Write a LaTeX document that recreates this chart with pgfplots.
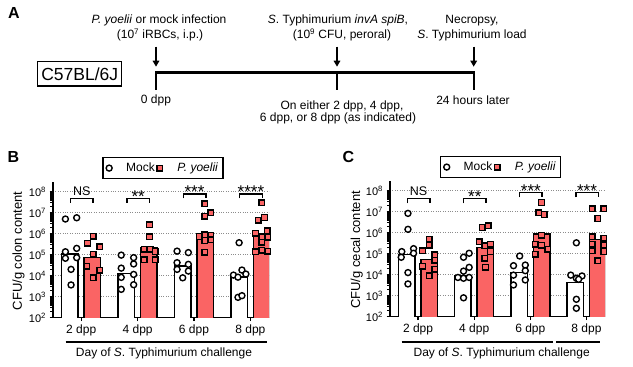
\documentclass[border=0pt]{standalone}
\usepackage{pgfplots}
\pgfplotsset{compat=1.18}
\usepackage{fontspec}
\setmainfont{Liberation Sans}
\usetikzlibrary{arrows.meta}
\definecolor{pyred}{RGB}{250,100,100}
\pgfplotsset{
  mockpts/.style={only marks, mark=*, mark size=3pt, mark options={fill=white, draw=black, line width=1.4pt}},
  pypts/.style={only marks, mark=square*, mark size=2.8pt, mark options={fill=pyred, draw=black, line width=1.4pt}},
  mockbar/.style={ybar, bar width=16.5pt, bar shift=0pt, fill=white, draw=black, line width=1.5pt, forget plot},
  pybar/.style={ybar, bar width=16.5pt, bar shift=0pt, fill=pyred, draw=black, line width=1.5pt, forget plot},
}
\begin{document}
\begin{tikzpicture}[font=\fontsize{12}{14}\selectfont]
\begin{scope}[x=1pt,y=1pt]
\path[use as bounding box] (0,0) rectangle (633,367);
% Panel A
\node[font=\bfseries\fontsize{16}{18}\selectfont] at (14,354) {A};
\node at (159,346.3) {\textit{P. yoelii} or mock infection};
\node at (160,332) {(10\textsuperscript{7} iRBCs, i.p.)};
\node at (338,346.3) {\textit{S}. Typhimurium \textit{invA spiB},};
\node at (342,332) {(10\textsuperscript{9} CFU, peroral)};
\node at (472,346.3) {Necropsy,};
\node at (472,332) {\textit{S}. Typhimurium load};
\draw[line width=2.5pt] (155,294.3) -- (474.8,294.3);
\foreach \x in {156,337,473.7} {
  \draw[line width=2.2pt] (\x,295.5) -- (\x,277);
  \draw[line width=1.6pt, -{Triangle[length=6pt,width=6.5pt]}] (\x,320.3) -- (\x,300.3);
}
\node[draw, line width=1.5pt, minimum width=84pt, minimum height=24.3pt, font=\fontsize{17.5}{20}\selectfont, inner sep=0pt] at (79.7,293.2) {C57BL/6J};
\node at (156,267) {0 dpp};
\node at (473,267) {24 hours later};
\node at (342,260.3) {On either 2 dpp, 4 dpp,};
\node at (338,248.7) {6 dpp, or 8 dpp (as indicated)};
% Panel labels and axis titles
\node[font=\bfseries\fontsize{16}{18}\selectfont] at (13.3,210.3) {B};
\node[font=\bfseries\fontsize{16}{18}\selectfont] at (348.3,210.3) {C};
\node[rotate=90, font=\fontsize{13}{15}\selectfont] at (18.5,116) {CFU/g colon content};
\node[rotate=90, font=\fontsize{13}{15}\selectfont] at (356.7,117) {CFU/g cecal content};
\draw[line width=2pt] (65.7,25) -- (266.7,25);
\node at (164,13.7) {Day of \textit{S}. Typhimurium challenge};
\draw[line width=2pt] (401.7,25) -- (553,25);
\draw[line width=2pt] (556,25) -- (600,25);
\node at (501.7,13.7) {Day of \textit{S}. Typhimurium challenge};
\end{scope}

% Panel B
\begin{axis}[
    scale only axis, width=216pt, height=136pt, anchor=south west, at={(53pt,49.3pt)},
    ymode=log, ymin=1e2, ymax=3e8,
    xmin=-0.5, xmax=3.33,
    axis lines=left, axis line style={-, line width=1.5pt},
    xtick={0,1,2,3}, xticklabels={2 dpp,4 dpp,6 dpp,8 dpp},
    ytick={1e2,1e3,1e4,1e5,1e6,1e7,1e8},
    yticklabels={10\textsuperscript{2},10\textsuperscript{3},10\textsuperscript{4},10\textsuperscript{5},10\textsuperscript{6},10\textsuperscript{7},10\textsuperscript{8}},
    minor ytick={},
    tick align=outside, major tick length=3.5pt,
    tick style={line width=1.3pt, black},
    ymajorgrids, grid style={dotted, black!45, line width=0.8pt},
    x tick label style={font=\fontsize{12}{14}\selectfont},
    y tick label style={font=\fontsize{11}{13}\selectfont},
    legend columns=2,
    legend style={at={(0.51,1.10)}, anchor=center, draw=black, line width=1.5pt, font=\fontsize{12}{14}\selectfont, inner xsep=3pt, inner ysep=3.5pt},
  ]
\addplot[mockbar] coordinates {(-0.2,1.07e5) (0.8,1.29e4) (1.8,2.88e4) (2.8,8.51e3)};
\addplot[pybar] coordinates {(0.2,7.41e4) (1.2,2.14e5) (2.2,1.05e6) (3.2,7.59e5)};
\addplot[mockpts] coordinates {
(-0.28,5.01e6) (-0.08,5.75e6) (-0.28,1.38e5) (-0.08,2.0e5) (-0.28,6.76e4) (-0.08,7.24e4) (-0.18,2.0e4) (-0.18,3.63e3)
(0.71,9.55e4) (0.93,7.24e4) (0.93,3.63e4) (0.71,2.29e4) (0.93,1.15e4) (0.71,8.32e3) (0.93,3.72e3) (0.71,2.24e3)
(1.70,1.48e5) (1.90,1.26e5) (1.70,4.17e4) (1.90,3.47e4) (1.70,2.0e4) (1.90,1.66e4) (1.80,7.94e3)
(2.80,3.72e5) (2.70,1.07e4) (2.78,8.51e3) (2.85,1.86e4) (2.92,1.20e4) (2.78,9.33e2) (2.85,1.12e3)};
\addlegendentry{\hspace{12pt}Mock\hspace{2pt}}
\addplot[pypts] coordinates {
(0.21,7.76e5) (0.11,3.47e5) (0.33,2.40e5) (0.21,1.05e5) (0.10,2.88e4) (0.33,1.86e4) (0.21,7.94e3)
(1.21,2.63e6) (1.21,7.24e5) (1.12,1.82e5) (1.22,1.82e5) (1.31,1.41e5) (1.12,5.62e4) (1.31,5.62e4)
(2.19,2.69e7) (2.19,6.92e6) (2.30,1.0e7) (2.09,7.41e5) (2.19,8.71e5) (2.30,8.32e5) (2.19,4.79e5) (2.30,5.13e5) (2.19,1.29e5)
(3.20,3.02e7) (3.14,4.47e6) (3.25,5.89e6) (3.09,1.05e6) (3.30,1.38e6) (3.20,7.24e5) (3.31,6.76e5) (3.20,3.98e5) (3.09,1.38e5) (3.20,1.66e5) (3.31,1.48e5)};
\addlegendentry{\hspace{13pt}\textit{P. yoelii}}
\draw[line width=1.4pt] (axis cs:-0.19,3.02e7) |- (axis cs:0.21,4.85e7) -- (axis cs:0.21,3.02e7);
\draw[line width=1.4pt] (axis cs:0.81,3.02e7) |- (axis cs:1.21,4.85e7) -- (axis cs:1.21,3.02e7);
\draw[line width=1.4pt] (axis cs:1.81,4.79e7) |- (axis cs:2.21,7.76e7) -- (axis cs:2.21,4.79e7);
\draw[line width=1.4pt] (axis cs:2.81,4.79e7) |- (axis cs:3.21,7.76e7) -- (axis cs:3.21,4.79e7);
\node[anchor=base, inner sep=0pt, yshift=2.6pt, font=\fontsize{12.5}{14}\selectfont] at (axis cs:0.01,4.85e7) {NS};
\node[anchor=base, inner sep=0pt, yshift=-3.8pt, font=\fontsize{17}{18}\selectfont] at (axis cs:1.01,4.85e7) {**};
\node[anchor=base, inner sep=0pt, yshift=-3.8pt, font=\fontsize{17}{18}\selectfont] at (axis cs:2.01,7.76e7) {***};
\node[anchor=base, inner sep=0pt, yshift=-3.8pt, font=\fontsize{17}{18}\selectfont] at (axis cs:3.01,7.76e7) {****};
\end{axis}

% Panel C
\begin{axis}[
    scale only axis, width=215pt, height=136pt, anchor=south west, at={(390pt,50.3pt)},
    ymode=log, ymin=1e2, ymax=3e8,
    xmin=-0.5, xmax=3.33,
    axis lines=left, axis line style={-, line width=1.5pt},
    xtick={0,1,2,3}, xticklabels={2 dpp,4 dpp,6 dpp,8 dpp},
    ytick={1e2,1e3,1e4,1e5,1e6,1e7,1e8},
    yticklabels={10\textsuperscript{2},10\textsuperscript{3},10\textsuperscript{4},10\textsuperscript{5},10\textsuperscript{6},10\textsuperscript{7},10\textsuperscript{8}},
    minor ytick={},
    tick align=outside, major tick length=3.5pt,
    tick style={line width=1.3pt, black},
    ymajorgrids, grid style={dotted, black!45, line width=0.8pt},
    x tick label style={font=\fontsize{12}{14}\selectfont},
    y tick label style={font=\fontsize{11}{13}\selectfont},
    legend columns=2,
    legend style={at={(0.515,1.10)}, anchor=center, draw=black, line width=1.5pt, font=\fontsize{12}{14}\selectfont, inner xsep=3pt, inner ysep=3.5pt},
  ]
\addplot[mockbar] coordinates {(-0.2,9.33e4) (0.8,8.71e3) (1.8,1.26e4) (2.8,4.17e3)};
\addplot[pybar] coordinates {(0.2,5.37e4) (1.2,2.0e5) (2.2,8.71e5) (3.2,4.79e5)};
\addplot[mockpts] coordinates {
(-0.18,8.32e6) (-0.18,1.45e6) (-0.29,1.26e5) (-0.08,1.74e5) (-0.30,6.76e4) (-0.08,1.05e5) (-0.18,1.26e4) (-0.18,3.63e3)
(0.91,1.05e5) (0.81,6.76e4) (0.91,2.24e4) (0.81,1.48e4) (0.71,7.41e3) (0.81,6.76e3) (0.91,7.41e3) (0.81,7.94e2)
(1.81,7.76e4) (1.70,2.69e4) (1.91,2.88e4) (1.70,9.55e3) (1.91,1.55e4) (1.91,5.62e3) (1.70,3.24e3)
(2.82,3.31e5) (2.72,9.55e3) (2.82,6.76e3) (2.92,8.71e3) (2.86,6.03e3) (2.82,6.76e2) (2.82,2.51e2)};
\addlegendentry{\hspace{12pt}Mock\hspace{2pt}}
\addplot[pypts] coordinates {
(0.20,5.01e5) (0.20,2.57e5) (0.08,1.38e5) (0.30,8.71e4) (0.30,5.01e4) (0.08,2.57e4) (0.30,1.86e4) (0.20,8.71e3)
(1.14,1.78e6) (1.25,2.09e6) (1.09,3.72e5) (1.19,2.34e5) (1.29,2.88e5) (1.29,1.26e5) (1.19,6.03e4) (1.20,2.24e4)
(2.20,2.75e7) (2.15,8.91e6) (2.25,7.41e6) (2.20,7.76e5) (2.09,2.88e5) (2.20,2.57e5) (2.31,1.62e5) (2.09,9.55e4)
(3.10,1.35e7) (3.31,1.35e7) (3.20,4.79e6) (3.10,6.46e5) (3.31,5.37e5) (3.10,2.88e5) (3.31,2.57e5) (3.10,1.38e5) (3.31,1.26e5) (3.20,4.68e4)};
\addlegendentry{\hspace{13pt}\textit{P. yoelii}}
\draw[line width=1.4pt] (axis cs:-0.19,2.5e7) |- (axis cs:0.21,4.37e7) -- (axis cs:0.21,2.5e7);
\draw[line width=1.4pt] (axis cs:0.81,2.5e7) |- (axis cs:1.21,4.37e7) -- (axis cs:1.21,2.5e7);
\draw[line width=1.4pt] (axis cs:1.81,4.85e7) |- (axis cs:2.21,8.0e7) -- (axis cs:2.21,4.85e7);
\draw[line width=1.4pt] (axis cs:2.81,4.85e7) |- (axis cs:3.21,8.0e7) -- (axis cs:3.21,4.85e7);
\node[anchor=base, inner sep=0pt, yshift=2.6pt, font=\fontsize{12.5}{14}\selectfont] at (axis cs:0.01,4.37e7) {NS};
\node[anchor=base, inner sep=0pt, yshift=-3.8pt, font=\fontsize{17}{18}\selectfont] at (axis cs:1.01,4.37e7) {**};
\node[anchor=base, inner sep=0pt, yshift=-3.8pt, font=\fontsize{17}{18}\selectfont] at (axis cs:2.01,8.0e7) {***};
\node[anchor=base, inner sep=0pt, yshift=-3.8pt, font=\fontsize{17}{18}\selectfont] at (axis cs:3.01,8.0e7) {***};
\end{axis}
\end{tikzpicture}
\end{document}
